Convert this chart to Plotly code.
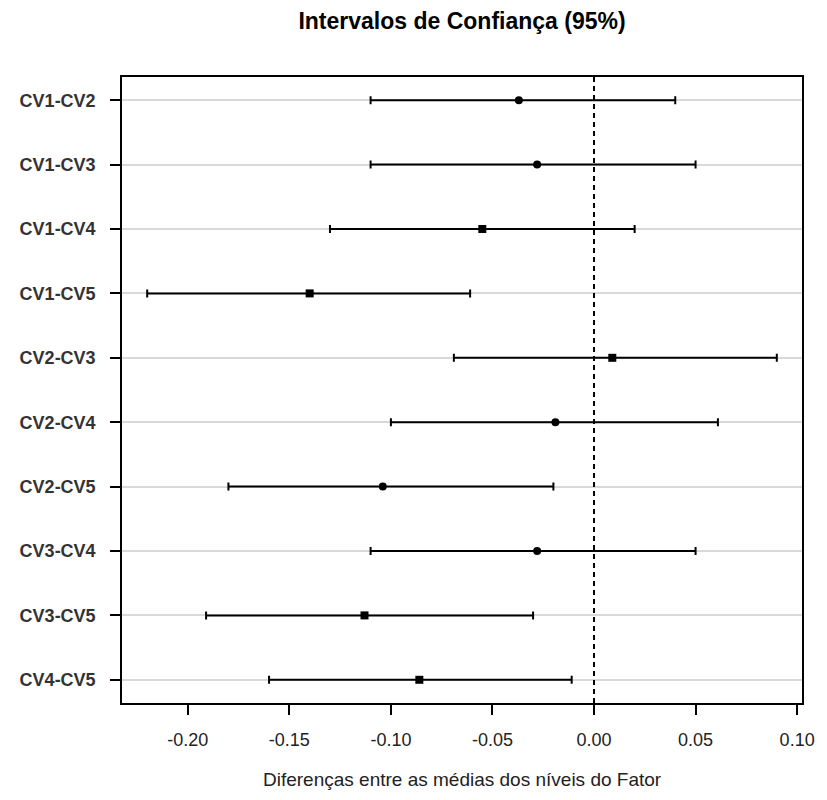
import plotly.graph_objects as go

comparisons = ["CV1-CV2", "CV1-CV3", "CV1-CV4", "CV1-CV5", "CV2-CV3",
               "CV2-CV4", "CV2-CV5", "CV3-CV4", "CV3-CV5", "CV4-CV5"]
diff_mean = [-0.037, -0.028, -0.055, -0.140, 0.009, -0.019, -0.104, -0.028, -0.113, -0.086]
lower = [-0.110, -0.110, -0.130, -0.220, -0.069, -0.100, -0.180, -0.110, -0.191, -0.160]
upper = [0.040, 0.050, 0.020, -0.061, 0.090, 0.061, -0.020, 0.050, -0.030, -0.011]
marker_symbols = ["circle", "circle", "square", "square", "square",
                  "circle", "circle", "circle", "square", "square"]
tick_vals = [-0.20, -0.15, -0.10, -0.05, 0.00, 0.05, 0.10]
tick_text = ["-0.20", "-0.15", "-0.10", "-0.05", "0.00", "0.05", "0.10"]

# R style axis limits: data range padded by 4%
lo, hi = min(lower), max(upper)
pad = 0.04 * (hi - lo)

# page body has an 8px default margin, so the figure is 8px smaller
W, H = 819, 792

fig = go.Figure()
fig.add_trace(go.Scatter(
    x=diff_mean,
    y=comparisons,
    mode="markers",
    marker=dict(color="black", size=8, symbol=marker_symbols),
    error_x=dict(
        type="data",
        symmetric=False,
        array=[u - m for u, m in zip(upper, diff_mean)],
        arrayminus=[m - l for m, l in zip(diff_mean, lower)],
        color="black",
        thickness=2,
        width=4,
    ),
    showlegend=False,
))

# reference line at zero
fig.add_shape(type="line", xref="x", yref="paper", x0=0, x1=0, y0=0, y1=1,
              line=dict(color="black", width=2, dash="5px,4px"))

fig.add_annotation(
    text="Diferenças entre as médias dos níveis do Fator",
    xref="paper", yref="paper", x=0.5, y=-0.123,
    xanchor="center", yanchor="middle", showarrow=False,
    font=dict(family="Liberation Sans", size=19, color="#222222"),
)

fig.update_layout(
    title=dict(text="<b>Intervalos de Confiança (95%)</b>", x=0.5, xref="paper",
               y=1 - 13 / H, yref="container", xanchor="center", yanchor="middle",
               font=dict(family="Liberation Sans", size=23, color="black")),
    width=W,
    height=H,
    plot_bgcolor="white",
    paper_bgcolor="white",
    margin=dict(l=111, r=17, t=69, b=97),
    font=dict(family="Liberation Sans", size=18, color="#222222"),
)
fig.update_xaxes(
    range=[lo - pad, hi + pad],
    tickvals=tick_vals,
    ticktext=tick_text,
    ticks="outside",
    ticklen=10,
    tickwidth=1.5,
    tickcolor="black",
    ticklabelstandoff=10,
    showgrid=False,
    zeroline=False,
    showline=True,
    linecolor="black",
    linewidth=1.5,
    mirror=True,
    tickfont=dict(family="Liberation Sans", size=18, color="#222222"),
)
fig.update_yaxes(
    type="category",
    categoryorder="array",
    categoryarray=comparisons,
    range=[len(comparisons) - 1 + 0.36, -0.36],
    ticks="outside",
    ticklen=10,
    tickwidth=1.5,
    tickcolor="black",
    ticklabelstandoff=11,
    showgrid=True,
    gridcolor="#d9d9d9",
    gridwidth=2,
    zeroline=False,
    showline=True,
    linecolor="black",
    linewidth=1.5,
    mirror=True,
    tickfont=dict(family="Liberation Sans", size=18, color="#333333", weight="bold"),
)

fig.write_html("out.html")
